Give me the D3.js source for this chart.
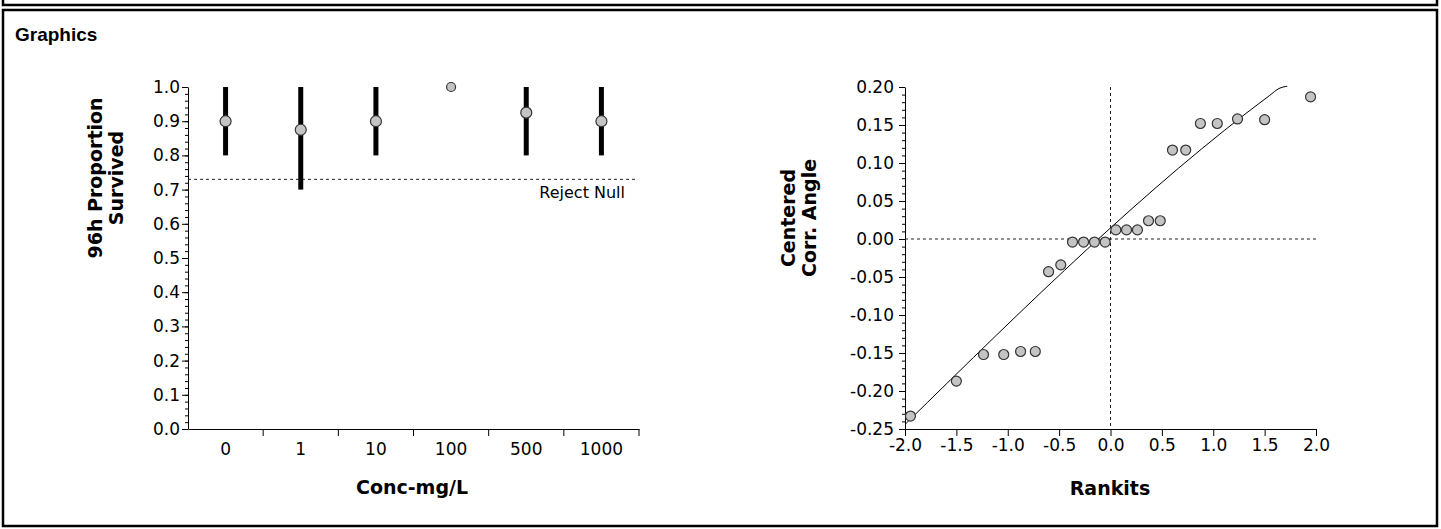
<!DOCTYPE html>
<html>
<head>
<meta charset="utf-8">
<script src="https://cdn.jsdelivr.net/npm/d3@7"></script>
<style>
  body { margin: 0; background: #fff; }
  svg { display: block; }
  .tick text { font-family: "DejaVu Sans", sans-serif; font-size: 17px; fill: #000; }
  .axis path, .axis line { stroke: #000; }
  .title { font-family: "DejaVu Sans", sans-serif; font-weight: bold; font-size: 19px; fill: #000; }
</style>
</head>
<body>
<div id="chart"></div>
<script>
// left panel: survival by concentration
const concLabels = ["0", "1", "10", "100", "500", "1000"];
const meanSurv = [0.9, 0.875, 0.9, 1.0, 0.925, 0.9];
const lowSurv = [0.8, 0.7, 0.8, 1.0, 0.8, 0.8];
const highSurv = [1.0, 1.0, 1.0, 1.0, 1.0, 1.0];
const rejectNull = 0.73;
const survTicks = [0, 0.1, 0.2, 0.3, 0.4, 0.5, 0.6, 0.7, 0.8, 0.9, 1.0];

// right panel: normal probability plot
const rankits = [-1.947, -1.5, -1.236, -1.039, -0.875, -0.732, -0.603, -0.484, -0.37, -0.262, -0.156, -0.052,
  0.052, 0.156, 0.262, 0.37, 0.484, 0.603, 0.732, 0.875, 1.039, 1.236, 1.5, 1.947];
const corrAngle = [-0.233, -0.187, -0.152, -0.152, -0.148, -0.148, -0.043, -0.034, -0.004, -0.004, -0.004, -0.004,
  0.012, 0.012, 0.012, 0.024, 0.024, 0.117, 0.117, 0.152, 0.152, 0.158, 0.157, 0.187];
const fitX = [-2.0, 1.55, 1.64, 1.72];
const fitY = [-0.244, 0.189, 0.198, 0.201];
const angleTicks = [-0.25, -0.2, -0.15, -0.1, -0.05, 0, 0.05, 0.1, 0.15, 0.2];
const rankitTicks = [-2, -1.5, -1, -0.5, 0, 0.5, 1, 1.5, 2];

const W = 1441, H = 529;
const svg = d3.select("#chart").append("svg").attr("width", W).attr("height", H);

// frames
svg.append("path")
  .attr("d", "M3,0 V5 H1437 V0")
  .attr("fill", "none").attr("stroke", "#000").attr("stroke-width", 2.5);
svg.append("rect")
  .attr("x", 3).attr("y", 10).attr("width", 1434).attr("height", 516)
  .attr("fill", "none").attr("stroke", "#000").attr("stroke-width", 2.5);
svg.append("text")
  .attr("x", 15).attr("y", 41)
  .attr("font-family", "Liberation Sans, Arial, sans-serif")
  .attr("font-weight", "bold").attr("font-size", 19)
  .text("Graphics");

const hyphen = f => d => f(d).replace("\u2212", "-");
const plotTop = 87, plotBottom = 429;

// ---------- left chart ----------
const xL = d3.scaleBand().domain(concLabels).range([188, 639]);
const yL = d3.scaleLinear().domain([0, 1]).range([plotBottom, plotTop]);

svg.append("g")
  .attr("class", "axis")
  .attr("transform", "translate(188,0)")
  .call(d3.axisLeft(yL).tickValues(d3.range(0, 1.0001, 0.02)).tickSize(3).tickFormat(""))
  .call(g => g.select(".domain").remove());

svg.append("g")
  .attr("class", "axis")
  .attr("transform", "translate(188,0)")
  .call(d3.axisLeft(yL).tickValues(survTicks).tickSize(6).tickSizeOuter(0).tickPadding(2)
    .tickFormat(hyphen(d3.format(".1f"))));

const xAxisL = svg.append("g")
  .attr("class", "axis")
  .attr("transform", `translate(0,${plotBottom})`)
  .call(d3.axisBottom(xL).tickSize(0).tickSizeOuter(0).tickPadding(14));

xAxisL.selectAll(".bound")
  .data(concLabels)
  .enter()
  .append("line")
  .attr("x1", d => xL(d) + xL.bandwidth())
  .attr("x2", d => xL(d) + xL.bandwidth())
  .attr("y1", 0).attr("y2", 7)
  .attr("stroke", "#000");

// reject null line
svg.append("line")
  .attr("x1", 188).attr("x2", 638)
  .attr("y1", yL(rejectNull)).attr("y2", yL(rejectNull))
  .attr("stroke", "#222").attr("stroke-dasharray", "3,3");
svg.append("text")
  .attr("x", 625).attr("y", yL(rejectNull) + 19)
  .attr("text-anchor", "end")
  .attr("font-family", "DejaVu Sans, sans-serif").attr("font-size", 16)
  .text("Reject Null");

const groups = concLabels.map((c, i) => ({ c, m: meanSurv[i], lo: lowSurv[i], hi: highSurv[i] }));

svg.append("g").selectAll("line")
  .data(groups.filter(d => d.hi > d.lo))
  .enter().append("line")
  .attr("x1", d => xL(d.c) + xL.bandwidth() / 2)
  .attr("x2", d => xL(d.c) + xL.bandwidth() / 2)
  .attr("y1", d => yL(d.lo)).attr("y2", d => yL(d.hi))
  .attr("stroke", "#000").attr("stroke-width", 5);

svg.append("g").selectAll("circle")
  .data(groups)
  .enter().append("circle")
  .attr("cx", d => xL(d.c) + xL.bandwidth() / 2)
  .attr("cy", d => yL(d.m))
  .attr("r", d => (d.hi > d.lo ? 5.5 : 4.5))
  .attr("fill", "#c4c4c4").attr("stroke", "#333").attr("stroke-width", 1.2);

svg.append("text")
  .attr("class", "title")
  .attr("text-anchor", "middle")
  .attr("transform", "translate(102,178) rotate(-90)")
  .call(t => {
    t.append("tspan").attr("x", 0).attr("dy", 0).text("96h Proportion");
    t.append("tspan").attr("x", 0).attr("dy", 21).text("Survived");
  });

svg.append("text")
  .attr("class", "title")
  .attr("text-anchor", "middle")
  .attr("x", 412).attr("y", 494)
  .text("Conc-mg/L");

// ---------- right chart ----------
const xR = d3.scaleLinear().domain([-2, 2]).range([905, 1316]);
const yR = d3.scaleLinear().domain([-0.25, 0.2]).range([plotBottom, plotTop]);

svg.append("g")
  .attr("class", "axis")
  .attr("transform", "translate(905,0)")
  .call(d3.axisLeft(yR).tickValues(d3.range(-0.25, 0.2001, 0.01)).tickSize(3).tickFormat(""))
  .call(g => g.select(".domain").remove());

svg.append("g")
  .attr("class", "axis")
  .attr("transform", "translate(905,0)")
  .call(d3.axisLeft(yR).tickValues(angleTicks).tickSize(6).tickSizeOuter(0).tickPadding(5)
    .tickFormat(d => d.toFixed(2)));

svg.append("g")
  .attr("class", "axis")
  .attr("transform", `translate(0,${plotBottom})`)
  .call(d3.axisBottom(xR).tickValues(rankitTicks).tickSize(7).tickSizeOuter(0).tickPadding(3)
    .tickFormat(d => d.toFixed(1)));

// reference lines
svg.append("line")
  .attr("x1", xR(-2)).attr("x2", xR(2))
  .attr("y1", yR(0)).attr("y2", yR(0))
  .attr("stroke", "#222").attr("stroke-dasharray", "3,3");
svg.append("line")
  .attr("x1", xR(0)).attr("x2", xR(0))
  .attr("y1", plotTop).attr("y2", plotBottom)
  .attr("stroke", "#222").attr("stroke-dasharray", "3,3");

// fit line
svg.append("path")
  .datum(fitX.map((x, i) => [x, fitY[i]]))
  .attr("fill", "none").attr("stroke", "#000").attr("stroke-width", 1)
  .attr("d", d3.line().x(d => xR(d[0])).y(d => yR(d[1])).curve(d3.curveMonotoneX));

svg.append("g").selectAll("circle")
  .data(rankits.map((x, i) => [x, corrAngle[i]]))
  .enter().append("circle")
  .attr("cx", d => xR(d[0]))
  .attr("cy", d => yR(d[1]))
  .attr("r", 5)
  .attr("fill", "#c4c4c4").attr("stroke", "#333").attr("stroke-width", 1.2);

svg.append("text")
  .attr("class", "title")
  .attr("text-anchor", "middle")
  .attr("transform", "translate(795,218) rotate(-90)")
  .call(t => {
    t.append("tspan").attr("x", 0).attr("dy", 0).text("Centered");
    t.append("tspan").attr("x", 0).attr("dy", 21).text("Corr. Angle");
  });

svg.append("text")
  .attr("class", "title")
  .attr("text-anchor", "middle")
  .attr("x", 1110).attr("y", 495)
  .text("Rankits");
</script>
</body>
</html>
